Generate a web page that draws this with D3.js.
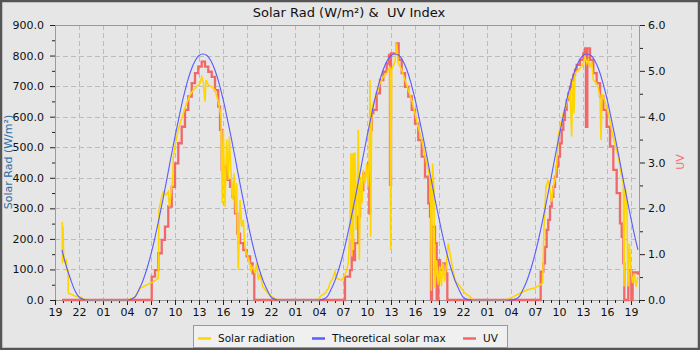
<!DOCTYPE html>
<html><head><meta charset="utf-8">
<script src="https://cdn.jsdelivr.net/npm/d3@7"></script>
<style>
html,body{margin:0;padding:0;background:#e6e6e6;}
svg{display:block;font-family:"DejaVu Sans",sans-serif;}
</style></head>
<body>
<svg id="chart" width="700" height="350"></svg>
<script>
// time in decimal hours since midnight of the first day (first tick = 19:00)
const xTickHours = [19,22,25,28,31,34,37,40,43,46,49,52,55,58,61,64,67,70,73,76,79,82,85,88,91];
const yLeftTicks = [0,100,200,300,400,500,600,700,800,900];
const yRightTicks = [0,1,2,3,4,5,6];
const seriesNames = ["Solar radiation","Theoretical solar max","UV"];

// Theoretical solar max [hour, W/m²]
const theoretical = [
 [19.875,164],[20,150],[20.5,103],[21,64],[21.5,30],[22,10],[22.5,2],[23,0],
 [28,0],[28.5,2],[29,10],[29.5,34],[30,64],[30.5,103],[31,150],[31.5,205],[32,266],[32.5,330],[33,398],[33.5,468],[34,535],[34.5,598],[35,658],[35.5,710],[36,752],[36.5,782],[37,800],[37.5,805],[38,800],[38.5,782],[39,752],[39.5,710],[40,658],[40.5,598],[41,535],[41.5,468],[42,398],[42.5,330],[43,266],[43.5,205],[44,150],[44.5,103],[45,64],[45.5,34],[46,10],[46.5,2],[47,0],
 [52,0],[52.5,2],[53,10],[53.5,34],[54,64],[54.5,103],[55,150],[55.5,205],[56,266],[56.5,330],[57,398],[57.5,468],[58,535],[58.5,598],[59,658],[59.5,710],[60,752],[60.5,782],[61,800],[61.5,805],[62,800],[62.5,782],[63,752],[63.5,710],[64,658],[64.5,598],[65,535],[65.5,468],[66,398],[66.5,330],[67,266],[67.5,205],[68,150],[68.5,103],[69,64],[69.5,34],[70,10],[70.5,2],[71,0],
 [76,0],[76.5,2],[77,10],[77.5,34],[78,64],[78.5,103],[79,150],[79.5,205],[80,266],[80.5,330],[81,398],[81.5,468],[82,535],[82.5,598],[83,658],[83.5,710],[84,752],[84.5,782],[85,800],[85.5,805],[86,800],[86.5,782],[87,752],[87.5,710],[88,658],[88.5,598],[89,535],[89.5,468],[90,398],[90.5,330],[91,266],[91.5,205],[91.875,164]
];

// Solar radiation [hour, W/m²]
const solar = [
 [19.91,256],[19.93,120],[20.0,240],[20.09,131],[20.21,125],[20.41,131],[20.46,98],[20.63,98],[20.66,22],[21.09,18],[21.5,13],[21.91,11],[22.34,8],[22.54,3],[22.8,0],
 [28.0,0],[28.5,4],[29.0,10],[29.63,38],[30.46,49],[31.29,60],[31.91,71],[32.0,295],[32.34,338],[32.54,354],[32.88,344],[33.16,354],[33.29,305],[33.46,338],[33.71,393],[33.79,469],[34.21,535],[34.63,578],[35.04,611],[35.46,644],[35.88,671],[36.29,687],[36.71,698],[37.13,709],[37.34,731],[37.54,714],[37.75,649],[37.88,720],[38.16,704],[38.59,698],[39.0,687],[39.29,660],[39.54,633],[39.75,600],[39.91,316],[40.04,556],[40.25,305],[40.46,524],[40.67,393],[40.79,535],[40.96,436],[41.21,327],[41.38,415],[41.59,284],[41.71,382],[41.91,98],[42.13,327],[42.34,240],[42.54,262],[42.75,175],[42.96,153],[43.25,131],[43.5,98],[43.79,109],[44.0,87],[44.21,120],[44.41,65],[44.63,87],[44.96,44],[45.46,27],[46.09,11],[46.7,2],[47,0],
 [51.9,0],[52.125,11],[52.75,22],[53.16,38],[53.375,55],[53.8,76],[54.0,93],[54.2,71],[54.84,65],[55.2,80],[55.46,98],[55.66,120],[55.875,229],[56.0,480],[56.1,142],[56.2,480],[56.3,164],[56.4,480],[56.5,480],[56.62,229],[56.79,360],[56.91,556],[57.04,131],[57.2,404],[57.37,316],[57.54,425],[57.75,382],[57.96,447],[58.12,371],[58.29,469],[58.375,720],[58.46,207],[58.59,622],[58.79,644],[59.21,676],[59.625,709],[60.04,731],[60.46,742],[60.875,764],[60.96,164],[61.08,753],[61.5,780],[61.71,840],[61.91,775],[62.34,753],[62.75,720],[63.16,687],[63.59,655],[64.0,611],[64.41,567],[64.84,524],[65.25,469],[65.66,425],[65.96,382],[66.04,30],[66.2,447],[66.35,370],[66.5,40],[66.7,130],[66.9,50],[67.1,110],[67.3,45],[67.5,120],[67.7,60],[67.9,110],[68.16,185],[68.59,120],[69.0,65],[69.625,44],[70.25,22],[70.875,11],[71.2,0],
 [75.3,0],[76.29,11],[77.125,22],[77.96,33],[78.79,38],[79.625,49],[79.96,55],[80.125,240],[80.375,371],[80.66,393],[80.875,360],[81.09,322],[81.29,371],[81.5,393],[81.71,447],[81.91,535],[82.125,567],[82.54,611],[82.96,644],[83.375,687],[83.59,535],[83.71,731],[83.875,611],[84.0,742],[84.41,753],[84.84,764],[85.04,775],[85.25,796],[85.46,775],[85.66,785],[85.875,764],[86.09,780],[86.29,720],[86.71,709],[86.91,693],[87.125,665],[87.25,524],[87.375,676],[87.75,649],[88.16,611],[88.59,556],[89.0,507],[89.41,469],[89.84,404],[90.04,382],[90.125,44],[90.25,371],[90.46,338],[90.625,44],[90.79,185],[91.0,98],[91.2,55],[91.41,87],[91.625,44],[91.84,76]
];

// UV index [hour, UV] (step)
const uv = [
 [19.875,0],
 [31.09,0.51],[31.5,0.65],[31.91,1.02],[32.34,1.31],[32.75,1.6],[33.16,2.04],[33.59,2.47],[34.0,2.98],[34.41,3.42],[34.84,3.78],[35.25,4.15],[35.66,4.44],[36.09,4.73],[36.5,4.95],[36.91,5.09],[37.34,5.2],[37.75,5.09],[38.16,4.98],[38.59,4.87],[39.0,4.58],[39.41,4.22],[39.63,3.71],[39.84,2.84],[40.25,2.91],[40.54,2.62],[40.88,2.47],[41.2,2.25],[41.5,1.89],[41.79,1.45],[42.13,1.24],[42.54,1.09],[42.96,0.95],[43.38,0.8],[43.71,0.58],[43.91,0],
 [55.25,0.51],[55.66,0.51],[55.875,0.65],[56.09,1.31],[56.29,0.87],[56.5,1.24],[56.91,1.82],[57.125,2.4],[57.54,2.76],[58.16,2.98],[58.29,1.89],[58.375,3.71],[58.59,4.07],[58.79,4.15],[59.21,4.51],[59.625,4.8],[60.04,4.98],[60.46,5.16],[60.75,5.35],[60.875,2.51],[61.0,5.38],[61.375,5.38],[61.71,5.6],[61.96,5.24],[62.34,4.95],[62.75,4.65],[63.16,4.44],[63.59,4.15],[64.0,3.85],[64.41,3.49],[64.84,3.13],[65.25,2.69],[65.66,2.11],[65.875,1.82],[66.0,0],[66.125,1.6],[66.5,1.24],[66.71,0],[66.91,0.87],[67.125,0.65],[67.54,0.8],[67.875,0.58],[68.04,0],
 [79.71,0.62],[80.04,0.8],[80.25,1.16],[80.46,1.53],[80.66,1.75],[80.875,2.04],[81.09,2.25],[81.29,2.47],[81.5,2.69],[81.71,2.91],[81.91,3.13],[82.125,3.42],[82.34,3.71],[82.54,3.93],[82.75,4.15],[82.96,4.36],[83.16,4.51],[83.375,4.65],[83.59,4.8],[83.79,4.91],[84.0,5.02],[84.21,5.13],[84.625,5.24],[85.04,5.38],[85.25,5.49],[85.375,3.78],[85.54,5.49],[85.875,5.24],[86.29,4.95],[86.71,4.73],[87.125,4.44],[87.54,4.15],[87.96,3.78],[88.375,3.35],[88.79,2.84],[89.21,2.33],[89.625,1.67],[89.84,1.38],[90.04,0.8],[90.16,0],[90.66,0.65],[91.04,0],[91.2,0.6],[91.875,0.55]
];

const W = 700, H = 350;
const m = {left:55, right:640, top:25, bottom:300};
const svg = d3.select("#chart");

svg.append("rect").attr("x",1).attr("y",1).attr("width",W-2).attr("height",H-2)
  .attr("fill","#e6e6e6").attr("stroke","#555").attr("stroke-width",2.5);

const x = d3.scaleLinear().domain([19, 92.125]).range([m.left, m.right]);
const yL = d3.scaleLinear().domain([0,900]).range([m.bottom, m.top]);
const yR = d3.scaleLinear().domain([0,6]).range([m.bottom, m.top]);

// grid
const grid = svg.append("g").attr("stroke","#bcbcbc").attr("stroke-dasharray","5,3").attr("stroke-width",1);
xTickHours.forEach(h => {
  if (x(h) > m.left + 1 && x(h) < m.right - 1)
    grid.append("line").attr("x1",Math.round(x(h))+0.5).attr("x2",Math.round(x(h))+0.5).attr("y1",m.top).attr("y2",m.bottom);
});
yLeftTicks.forEach(v => {
  if (v > 0 && v < 900)
    grid.append("line").attr("x1",m.left).attr("x2",m.right).attr("y1",Math.round(yL(v))+0.5).attr("y2",Math.round(yL(v))+0.5);
});

// frame
svg.append("rect").attr("x",m.left+0.5).attr("y",m.top+0.5).attr("width",m.right-m.left-1).attr("height",m.bottom-m.top)
  .attr("fill","none").attr("stroke","#9a9a9a").attr("stroke-width",1);

// axes
const fmtH = h => String(h % 24).padStart(2,"0");
const xAxis = d3.axisBottom(x).tickValues(xTickHours).tickFormat(fmtH).tickSize(5).tickPadding(3);
const xMinor = d3.axisBottom(x).tickValues(d3.range(19, 93, 1)).tickFormat("").tickSize(3);
svg.append("g").attr("transform",`translate(0,${m.bottom})`).call(xAxis);
svg.append("g").attr("transform",`translate(0,${m.bottom})`).call(xMinor);
const yAxisL = d3.axisLeft(yL).tickValues(yLeftTicks).tickFormat(d3.format(".1f")).tickSize(5).tickPadding(6);
const yMinorL = d3.axisLeft(yL).tickValues(d3.range(50,900,100)).tickFormat("").tickSize(3);
svg.append("g").attr("transform",`translate(${m.left},0)`).call(yAxisL);
svg.append("g").attr("transform",`translate(${m.left},0)`).call(yMinorL);
const yAxisR = d3.axisRight(yR).tickValues(yRightTicks).tickFormat(d3.format(".1f")).tickSize(5).tickPadding(3);
const yMinorR = d3.axisRight(yR).tickValues([0.5,1.5,2.5,3.5,4.5,5.5]).tickFormat("").tickSize(3);
svg.append("g").attr("transform",`translate(${m.right},0)`).call(yAxisR);
svg.append("g").attr("transform",`translate(${m.right},0)`).call(yMinorR);
svg.selectAll(".domain").remove();
svg.selectAll(".tick line").attr("stroke","#222");
svg.selectAll(".tick text").attr("font-size",11).attr("fill","#111").attr("font-family","DejaVu Sans");

// series
const plot = svg.append("g");
plot.append("path").datum(uv)
  .attr("d", d3.line().x(d=>x(d[0])).y(d=>yR(d[1])).curve(d3.curveStepAfter))
  .attr("fill","none").attr("stroke","#f26868").attr("stroke-width",2.3);
plot.append("path").datum(solar)
  .attr("d", d3.line().x(d=>x(d[0])).y(d=>yL(d[1])))
  .attr("fill","none").attr("stroke","#ffd500").attr("stroke-width",1.6);
plot.append("path").datum(theoretical)
  .attr("d", d3.line().x(d=>x(d[0])).y(d=>yL(d[1])).curve(d3.curveMonotoneX))
  .attr("fill","none").attr("stroke","#5b5bff").attr("stroke-width",1.1);

// titles
svg.append("text").attr("x",349).attr("y",17).attr("text-anchor","middle").style("white-space","pre")
  .attr("font-size",13).attr("fill","#111").text("Solar Rad (W/m²) &  UV Index");
svg.append("text").attr("transform","translate(12,162) rotate(-90)").attr("text-anchor","middle")
  .attr("font-size",11).attr("fill","#2b6fa6").text("Solar Rad (W/m²)");
svg.append("text").attr("transform","translate(684,162) rotate(-90)").attr("text-anchor","middle")
  .attr("font-size",11).attr("fill","#f07070").text("UV");

// legend
const lg = svg.append("g");
lg.append("rect").attr("x",193.5).attr("y",325.5).attr("width",314).attr("height",22)
  .attr("fill","#f0f0f0").attr("stroke","#999");
const legendColors = ["#ffd500","#5b5bff","#f26868"];
const legendX = [198, 312, 463];
seriesNames.forEach((n,i) => {
  lg.append("line").attr("x1",legendX[i]).attr("x2",legendX[i]+13).attr("y1",338.5).attr("y2",338.5)
    .attr("stroke",legendColors[i]).attr("stroke-width",2.5);
  lg.append("text").attr("x",legendX[i]+20).attr("y",342).attr("font-size",10.5).attr("fill","#111").text(n);
});
</script>
</body></html>
